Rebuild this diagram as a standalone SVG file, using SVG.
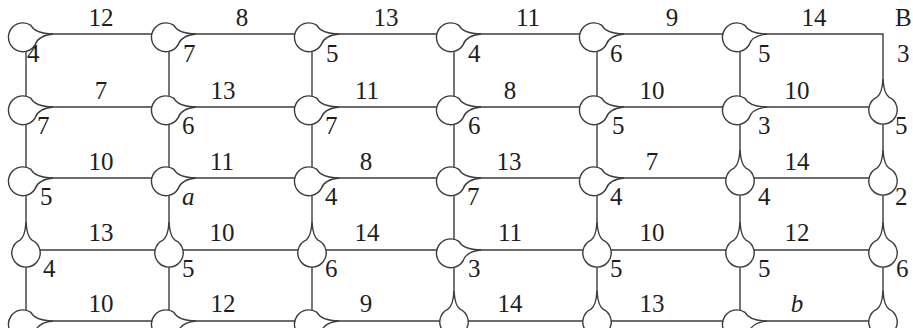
<svg xmlns="http://www.w3.org/2000/svg" xmlns:xlink="http://www.w3.org/1999/xlink" width="913" height="328" viewBox="0 0 913 328">
<style>
.ln{stroke:#3c3c3c;stroke-width:1.4;fill:none}
.nd{fill:#fff;stroke:#3c3c3c;stroke-width:1.4}
.t{font-family:"Liberation Serif","Times New Roman",serif;font-size:25px;fill:#1e1e1e}
.w{text-anchor:middle}
.i{font-style:italic}
</style>
<defs>
<path id="sr" d="M 8,-11.6 Q 12,-3.5 30,-3 Q 15,-1.5 12,8 A 14.4 14.4 0 1 1 8,-11.6 Z"/>
<path id="su" d="M -6,-12.9 Q -1,-16 0,-31 Q 1,-16 6,-12.9 A 14.2 14.2 0 1 1 -6,-12.9 Z"/>
</defs>
<rect width="913" height="328" fill="#fff"/>
<g id="connectors" class="ln">
<path d="M26,34H883V328"/>
<path d="M26,107H883M26,178H883M26,250H883M26,321H883"/>
<path d="M26,34V328M169,34V328M312,34V328M454,34V328M597,34V328M740,34V328"/>
</g>
<g id="edge-labels" class="t w">
<text x="101" y="26">12</text><text x="242" y="26">8</text><text x="386" y="26">13</text><text x="528" y="26">11</text><text x="672" y="26">9</text><text x="814" y="26">14</text>
<text x="101" y="99">7</text><text x="223" y="99">13</text><text x="367" y="99">11</text><text x="510" y="99">8</text><text x="652" y="99">10</text><text x="797" y="99">10</text>
<text x="101" y="170">10</text><text x="222" y="170">11</text><text x="366" y="170">8</text><text x="509" y="170">13</text><text x="652" y="170">7</text><text x="797" y="170">14</text>
<text x="101" y="241">13</text><text x="222" y="241">10</text><text x="367" y="241">14</text><text x="510" y="241">11</text><text x="652" y="241">10</text><text x="797" y="241">12</text>
<text x="101" y="312">10</text><text x="223" y="312">12</text><text x="366" y="312">9</text><text x="510" y="312">14</text><text x="652" y="312">13</text><text x="797" y="312" class="i">b</text>
</g>
<g id="n11" class="nd"><use xlink:href="#sr" x="23" y="37"/><text class="t" x="27" y="62" stroke="none">4</text></g>
<g id="n12" class="nd"><use xlink:href="#sr" x="166" y="37"/><text class="t" x="183" y="62" stroke="none">7</text></g>
<g id="n13" class="nd"><use xlink:href="#sr" x="309" y="37"/><text class="t" x="326" y="62" stroke="none">5</text></g>
<g id="n14" class="nd"><use xlink:href="#sr" x="451" y="37"/><text class="t" x="468" y="62" stroke="none">4</text></g>
<g id="n15" class="nd"><use xlink:href="#sr" x="594" y="37"/><text class="t" x="610" y="62" stroke="none">6</text></g>
<g id="n16" class="nd"><use xlink:href="#sr" x="737" y="37"/><text class="t" x="758" y="62" stroke="none">5</text></g>
<g id="n17"><text class="t" x="895" y="26">B</text><text class="t" x="897" y="62">3</text></g>

<g id="n21" class="nd"><use xlink:href="#sr" x="23" y="110"/><text class="t" x="37" y="134" stroke="none">7</text></g>
<g id="n22" class="nd"><use xlink:href="#sr" x="166" y="110"/><text class="t" x="182" y="134" stroke="none">6</text></g>
<g id="n23" class="nd"><use xlink:href="#sr" x="309" y="110"/><text class="t" x="325" y="134" stroke="none">7</text></g>
<g id="n24" class="nd"><use xlink:href="#sr" x="451" y="110"/><text class="t" x="468" y="134" stroke="none">6</text></g>
<g id="n25" class="nd"><use xlink:href="#sr" x="594" y="110"/><text class="t" x="612" y="134" stroke="none">5</text></g>
<g id="n26" class="nd"><use xlink:href="#sr" x="737" y="110"/><text class="t" x="758" y="134" stroke="none">3</text></g>
<g id="n27" class="nd"><use xlink:href="#su" x="883" y="110"/><text class="t" x="895" y="134" stroke="none">5</text></g>

<g id="n31" class="nd"><use xlink:href="#sr" x="23" y="181"/><text class="t" x="40" y="205" stroke="none">5</text></g>
<g id="n32" class="nd"><use xlink:href="#sr" x="166" y="181"/><text class="t i" x="182" y="205" stroke="none">a</text></g>
<g id="n33" class="nd"><use xlink:href="#sr" x="309" y="181"/><text class="t" x="325" y="205" stroke="none">4</text></g>
<g id="n34" class="nd"><use xlink:href="#sr" x="451" y="181"/><text class="t" x="467" y="205" stroke="none">7</text></g>
<g id="n35" class="nd"><use xlink:href="#sr" x="594" y="181"/><text class="t" x="610" y="205" stroke="none">4</text></g>
<g id="n36" class="nd"><use xlink:href="#su" x="740" y="181"/><text class="t" x="758" y="205" stroke="none">4</text></g>
<g id="n37" class="nd"><use xlink:href="#su" x="883" y="181"/><text class="t" x="895" y="205" stroke="none">2</text></g>

<g id="n41" class="nd"><use xlink:href="#su" x="26" y="253"/><text class="t" x="43" y="277" stroke="none">4</text></g>
<g id="n42" class="nd"><use xlink:href="#su" x="169" y="253"/><text class="t" x="182" y="277" stroke="none">5</text></g>
<g id="n43" class="nd"><use xlink:href="#su" x="312" y="253"/><text class="t" x="325" y="277" stroke="none">6</text></g>
<g id="n44" class="nd"><use xlink:href="#sr" x="451" y="253"/><text class="t" x="468" y="277" stroke="none">3</text></g>
<g id="n45" class="nd"><use xlink:href="#su" x="597" y="253"/><text class="t" x="610" y="277" stroke="none">5</text></g>
<g id="n46" class="nd"><use xlink:href="#su" x="740" y="253"/><text class="t" x="758" y="277" stroke="none">5</text></g>
<g id="n47" class="nd"><use xlink:href="#su" x="883" y="253"/><text class="t" x="896" y="277" stroke="none">6</text></g>

<g id="n51" class="nd"><use xlink:href="#sr" x="23" y="324"/></g>
<g id="n52" class="nd"><use xlink:href="#sr" x="166" y="324"/></g>
<g id="n53" class="nd"><use xlink:href="#sr" x="309" y="324"/></g>
<g id="n54" class="nd"><use xlink:href="#su" x="454" y="322"/></g>
<g id="n55" class="nd"><use xlink:href="#su" x="597" y="322"/></g>
<g id="n56" class="nd"><use xlink:href="#sr" x="737" y="324"/></g>
<g id="n57" class="nd"><use xlink:href="#su" x="883" y="322"/></g>
</svg>
